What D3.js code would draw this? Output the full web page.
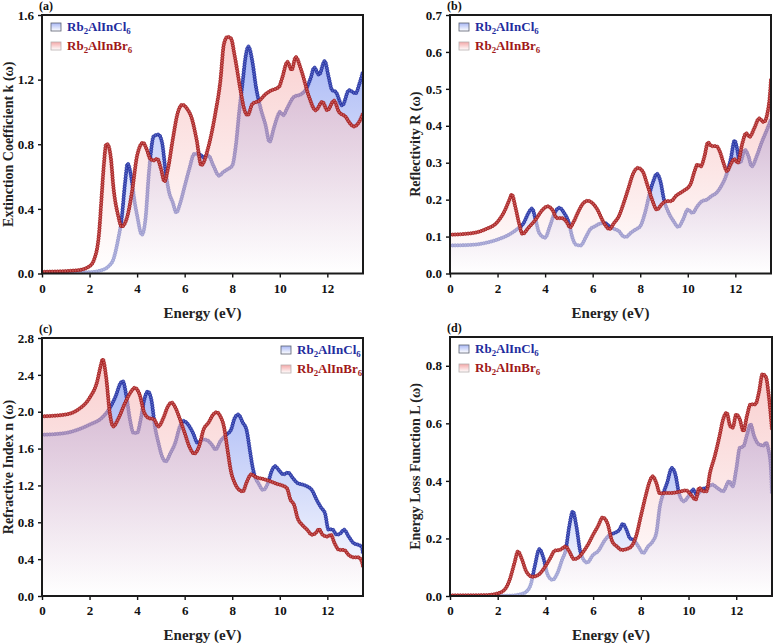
<!DOCTYPE html>
<html>
<head>
<meta charset="utf-8">
<script src="https://cdn.jsdelivr.net/npm/d3@7"></script>
<style>
  body { margin: 0; background: #fff; }
  svg { display: block; }
  text { font-family: "Liberation Serif", "DejaVu Serif", serif; font-weight: bold; }
</style>
</head>
<body>
<div id="chart"></div>
<script>
// [energy (eV), value]
const kCl = [[0,0.005],[2.0,0.008],[2.5,0.02],[2.8,0.045],[3.0,0.087],[3.2,0.21],[3.35,0.34],[3.5,0.57],[3.6,0.68],[3.75,0.6],[3.9,0.44],[4.0,0.36],[4.2,0.24],[4.35,0.335],[4.5,0.63],[4.7,0.85],[4.9,0.86],[5.05,0.81],[5.2,0.63],[5.35,0.5],[5.5,0.44],[5.65,0.377],[5.8,0.43],[6.0,0.54],[6.2,0.65],[6.4,0.74],[6.6,0.74],[6.8,0.72],[7.0,0.73],[7.2,0.67],[7.45,0.605],[7.6,0.625],[7.8,0.645],[8.0,0.667],[8.15,0.79],[8.3,1.01],[8.45,1.2],[8.55,1.33],[8.68,1.405],[8.85,1.31],[9.0,1.155],[9.2,1.02],[9.4,0.92],[9.57,0.815],[9.75,0.9],[9.9,0.97],[10.0,1.0],[10.15,0.98],[10.3,1.02],[10.6,1.094],[10.9,1.11],[11.1,1.14],[11.3,1.21],[11.45,1.275],[11.65,1.23],[11.89,1.315],[12.05,1.22],[12.2,1.135],[12.35,1.125],[12.63,1.04],[12.91,1.135],[13.19,1.115],[13.35,1.175],[13.5,1.25]];
const kBr = [[0,0.01],[1.5,0.02],[2.0,0.045],[2.2,0.09],[2.4,0.25],[2.5,0.46],[2.6,0.67],[2.7,0.8],[2.75,0.8],[2.9,0.71],[3.0,0.54],[3.2,0.36],[3.35,0.29],[3.6,0.36],[3.8,0.52],[4.0,0.73],[4.25,0.81],[4.4,0.77],[4.55,0.71],[4.7,0.7],[4.85,0.71],[5.0,0.65],[5.15,0.57],[5.3,0.65],[5.5,0.83],[5.7,0.99],[5.9,1.045],[6.1,1.02],[6.3,0.96],[6.5,0.83],[6.7,0.67],[7.0,0.785],[7.3,1.0],[7.5,1.19],[7.65,1.42],[7.8,1.465],[7.95,1.455],[8.1,1.35],[8.37,1.117],[8.5,1.02],[8.65,0.98],[8.85,1.05],[9.14,1.07],[9.4,1.11],[9.6,1.13],[9.97,1.156],[10.1,1.21],[10.32,1.31],[10.5,1.26],[10.67,1.34],[10.9,1.26],[11.23,1.094],[11.51,1.01],[11.79,1.063],[12.0,1.01],[12.28,1.07],[12.49,1.0],[12.77,0.97],[12.95,0.93],[13.12,0.91],[13.3,0.93],[13.5,0.99]];

const rCl = [[0,0.076],[1.0,0.078],[1.5,0.083],[2.0,0.092],[2.5,0.106],[2.8,0.119],[3.1,0.137],[3.3,0.164],[3.45,0.176],[3.6,0.146],[3.75,0.11],[4.0,0.097],[4.2,0.128],[4.4,0.164],[4.6,0.178],[4.8,0.164],[5.0,0.137],[5.15,0.097],[5.3,0.078],[5.5,0.076],[5.7,0.097],[5.9,0.12],[6.1,0.128],[6.3,0.135],[6.5,0.137],[6.7,0.128],[6.9,0.121],[7.1,0.115],[7.3,0.1],[7.4,0.099],[7.6,0.11],[7.8,0.119],[8.0,0.128],[8.2,0.164],[8.4,0.218],[8.55,0.25],[8.7,0.27],[8.85,0.25],[9.0,0.2],[9.2,0.164],[9.4,0.142],[9.6,0.126],[9.8,0.146],[10.0,0.173],[10.2,0.164],[10.4,0.182],[10.6,0.196],[10.8,0.2],[11.0,0.21],[11.2,0.218],[11.4,0.236],[11.6,0.263],[11.8,0.308],[11.97,0.36],[12.05,0.345],[12.2,0.3],[12.4,0.335],[12.55,0.318],[12.69,0.29],[12.9,0.318],[13.1,0.354],[13.3,0.385],[13.5,0.417]];
const rBr = [[0,0.105],[1.0,0.11],[1.5,0.12],[2.0,0.14],[2.3,0.17],[2.5,0.2],[2.6,0.214],[2.75,0.18],[2.9,0.137],[3.05,0.107],[3.3,0.124],[3.6,0.146],[3.9,0.173],[4.1,0.182],[4.3,0.173],[4.5,0.15],[4.7,0.15],[4.9,0.14],[5.05,0.125],[5.2,0.14],[5.4,0.168],[5.6,0.19],[5.8,0.197],[6.0,0.19],[6.2,0.173],[6.4,0.146],[6.6,0.125],[6.7,0.12],[6.9,0.137],[7.1,0.155],[7.3,0.19],[7.5,0.23],[7.7,0.27],[7.9,0.286],[8.1,0.277],[8.3,0.24],[8.5,0.2],[8.7,0.173],[8.9,0.187],[9.1,0.196],[9.3,0.196],[9.5,0.21],[9.8,0.223],[10.1,0.24],[10.3,0.28],[10.4,0.295],[10.55,0.29],[10.7,0.317],[10.85,0.355],[11.0,0.345],[11.2,0.345],[11.35,0.33],[11.5,0.3],[11.65,0.277],[11.8,0.295],[11.95,0.31],[12.1,0.3],[12.3,0.354],[12.45,0.38],[12.6,0.37],[12.8,0.394],[13.0,0.42],[13.2,0.41],[13.35,0.435],[13.45,0.48],[13.5,0.525]];

const nCl = [[0,1.75],[1.0,1.77],[1.5,1.805],[2.0,1.86],[2.5,1.93],[2.8,2.02],[3.1,2.17],[3.3,2.31],[3.4,2.33],[3.55,2.17],[3.7,1.915],[3.85,1.77],[4.0,1.77],[4.15,1.915],[4.3,2.13],[4.45,2.22],[4.6,2.13],[4.75,1.84],[4.9,1.66],[5.05,1.515],[5.2,1.46],[5.4,1.55],[5.6,1.66],[5.8,1.84],[5.95,1.9],[6.15,1.86],[6.35,1.77],[6.55,1.66],[6.75,1.7],[6.95,1.69],[7.15,1.64],[7.3,1.59],[7.5,1.68],[7.75,1.75],[7.95,1.805],[8.1,1.93],[8.25,1.97],[8.45,1.88],[8.6,1.805],[8.75,1.57],[8.85,1.41],[8.95,1.3],[9.1,1.225],[9.3,1.15],[9.5,1.225],[9.65,1.35],[9.8,1.41],[9.95,1.37],[10.15,1.32],[10.35,1.34],[10.55,1.28],[10.75,1.225],[10.95,1.21],[11.15,1.19],[11.35,1.15],[11.55,1.045],[11.75,0.955],[11.9,0.9],[12.05,0.72],[12.2,0.725],[12.4,0.665],[12.55,0.68],[12.7,0.72],[12.9,0.645],[13.1,0.575],[13.3,0.555],[13.45,0.535],[13.5,0.465]];
const nBr = [[0,1.95],[1.0,1.97],[1.5,2.02],[2.0,2.15],[2.3,2.31],[2.5,2.53],[2.55,2.57],[2.7,2.37],[2.85,1.99],[3.0,1.84],[3.2,1.92],[3.5,2.1],[3.75,2.22],[3.9,2.26],[4.1,2.19],[4.3,1.99],[4.5,1.93],[4.7,1.92],[4.9,1.84],[5.1,1.93],[5.3,2.06],[5.45,2.1],[5.6,2.05],[5.8,1.92],[6.0,1.77],[6.2,1.62],[6.4,1.545],[6.6,1.62],[6.8,1.81],[7.0,1.88],[7.2,1.97],[7.35,1.995],[7.5,1.95],[7.65,1.84],[7.8,1.59],[7.95,1.35],[8.1,1.23],[8.3,1.15],[8.45,1.135],[8.6,1.23],[8.8,1.32],[9.0,1.29],[9.3,1.27],[9.6,1.245],[9.9,1.215],[10.1,1.2],[10.3,1.17],[10.45,1.045],[10.6,0.99],[10.75,0.845],[10.95,0.77],[11.15,0.72],[11.35,0.665],[11.5,0.68],[11.65,0.725],[11.8,0.665],[12.0,0.645],[12.15,0.665],[12.3,0.575],[12.5,0.5],[12.7,0.5],[12.9,0.445],[13.1,0.42],[13.3,0.42],[13.45,0.375],[13.5,0.32]];

const lCl = [[0,0.0],[2.5,0.001],[3.0,0.007],[3.2,0.015],[3.4,0.044],[3.55,0.102],[3.75,0.163],[3.9,0.137],[4.1,0.073],[4.3,0.056],[4.5,0.079],[4.7,0.126],[4.85,0.16],[5.0,0.242],[5.15,0.294],[5.3,0.242],[5.45,0.16],[5.6,0.126],[5.75,0.116],[6.0,0.143],[6.2,0.155],[6.5,0.195],[6.7,0.213],[6.9,0.219],[7.1,0.23],[7.25,0.251],[7.4,0.23],[7.55,0.2],[7.7,0.195],[7.9,0.172],[8.1,0.149],[8.3,0.172],[8.5,0.19],[8.65,0.219],[8.8,0.312],[8.95,0.358],[9.1,0.393],[9.3,0.445],[9.45,0.422],[9.6,0.358],[9.8,0.329],[10.0,0.347],[10.2,0.37],[10.35,0.352],[10.55,0.37],[10.75,0.376],[11.0,0.387],[11.2,0.376],[11.45,0.364],[11.7,0.399],[11.85,0.381],[12.0,0.44],[12.15,0.515],[12.3,0.52],[12.45,0.56],[12.6,0.597],[12.75,0.556],[12.95,0.527],[13.15,0.523],[13.25,0.533],[13.35,0.51],[13.45,0.45],[13.5,0.358]];
const lBr = [[0,0.002],[1.5,0.003],[2.0,0.009],[2.3,0.023],[2.5,0.056],[2.7,0.114],[2.85,0.155],[3.0,0.131],[3.2,0.085],[3.45,0.067],[3.7,0.073],[3.95,0.097],[4.2,0.131],[4.4,0.158],[4.6,0.16],[4.85,0.172],[5.0,0.155],[5.2,0.128],[5.4,0.135],[5.6,0.155],[5.8,0.181],[6.0,0.213],[6.2,0.242],[6.4,0.273],[6.6,0.253],[6.8,0.19],[7.0,0.172],[7.2,0.16],[7.4,0.163],[7.6,0.172],[7.8,0.207],[8.0,0.277],[8.2,0.347],[8.35,0.393],[8.5,0.416],[8.65,0.393],[8.8,0.356],[9.0,0.358],[9.3,0.358],[9.6,0.362],[9.9,0.367],[10.1,0.352],[10.3,0.335],[10.45,0.376],[10.6,0.364],[10.75,0.364],[10.9,0.428],[11.1,0.486],[11.3,0.556],[11.45,0.614],[11.6,0.637],[11.75,0.59],[11.85,0.585],[12.0,0.631],[12.15,0.614],[12.3,0.573],[12.45,0.626],[12.6,0.666],[12.8,0.666],[12.95,0.707],[13.1,0.771],[13.25,0.76],[13.35,0.707],[13.45,0.626],[13.5,0.579]];

const xTicks = [0, 2, 4, 6, 8, 10, 12];

const series = [
  { key: 'Cl', name: ['Rb', '2', 'AlInCl', '6'], line: '#1b2a9c', dot: '#5562c0', top: '#a9b8f5', text: '#1f2d9e' },
  { key: 'Br', name: ['Rb', '2', 'AlInBr', '6'], line: '#9e1414', dot: '#c85858', top: '#f4a8a8', text: '#a01818' }
];

const panels = [
  { tag: '(a)', data: [kCl, kBr], l: 42, r: 363, t: 15, b: 273.5, ymax: 1.6, ystep: 0.4, title: 'Extinction Coefficient k (\u03c9)', tx: 13, legend: 'left' },
  { tag: '(b)', data: [rCl, rBr], l: 450, r: 771, t: 15, b: 273.5, ymax: 0.7, ystep: 0.1, title: 'Reflectivity R (\u03c9)', tx: 420, legend: 'left' },
  { tag: '(c)', data: [nCl, nBr], l: 42, r: 363, t: 338, b: 596, ymax: 2.8, ystep: 0.4, title: 'Refractive Index n (\u03c9)', tx: 13, legend: 'right' },
  { tag: '(d)', data: [lCl, lBr], l: 450, r: 772, t: 337, b: 596, ymax: 0.9, ystep: 0.2, title: 'Energy Loss Function L (\u03c9)', tx: 420, legend: 'left' }
];

const svg = d3.select('#chart').append('svg')
  .attr('width', 774)
  .attr('height', 643);
const defs = svg.append('defs');

// vertical fades, top colour to white
series.forEach(s => {
  const g = defs.append('linearGradient')
    .attr('id', 'fade' + s.key)
    .attr('x1', 0).attr('y1', 0).attr('x2', 0).attr('y2', 1);
  g.append('stop').attr('offset', 0).attr('stop-color', s.top);
  g.append('stop').attr('offset', 1).attr('stop-color', '#ffffff');
});

function addName(text, parts, size) {
  text.append('tspan').text(parts[0]);
  text.append('tspan').text(parts[1]).attr('dy', 3).attr('font-size', size * 0.68);
  text.append('tspan').text(parts[2]).attr('dy', -3);
  text.append('tspan').text(parts[3]).attr('dy', 3).attr('font-size', size * 0.68);
}

panels.forEach((p, pi) => {
  const x = d3.scaleLinear().domain([0, 13.5]).range([p.l, p.r]);
  const y = d3.scaleLinear().domain([0, p.ymax]).range([p.b, p.t]);
  const g = svg.append('g');

  defs.append('clipPath').attr('id', 'clip' + pi)
    .append('rect')
    .attr('x', p.l).attr('y', p.t)
    .attr('width', p.r - p.l).attr('height', p.b - p.t);

  const plot = g.append('g').attr('clip-path', `url(#clip${pi})`);

  const area = d3.area()
    .x(d => x(d[0])).y0(y(0)).y1(d => y(d[1]))
    .curve(d3.curveMonotoneX);
  const line = d3.line()
    .x(d => x(d[0])).y(d => y(d[1]))
    .curve(d3.curveMonotoneX);

  series.forEach((s, si) => {
    const pts = p.data[si];
    plot.append('path')
      .attr('d', area(pts))
      .attr('fill', `url(#fade${s.key})`)
      .attr('fill-opacity', si === 0 ? 1 : 0.55);

    const path = plot.append('path')
      .attr('d', line(pts))
      .attr('fill', 'none')
      .attr('stroke', s.line)
      .attr('stroke-width', 2);

    // beads along the curve, evenly spaced by length like the original symbols
    const node = path.node();
    const len = node.getTotalLength();
    const beads = d3.range(0, len, 2.6).map(l => node.getPointAtLength(l));
    plot.append('g').selectAll('circle')
      .data(beads)
      .join('circle')
      .attr('cx', d => d.x)
      .attr('cy', d => d.y)
      .attr('r', 1.6)
      .attr('fill', s.dot)
      .attr('stroke', s.line)
      .attr('stroke-width', 0.7);
  });

  // axes
  const xAxis = g.append('g')
    .attr('transform', `translate(0,${p.b})`)
    .call(d3.axisBottom(x).tickValues(xTicks).tickSize(4).tickPadding(6).tickFormat(d3.format('d')));
  const yAxis = g.append('g')
    .attr('transform', `translate(${p.l},0)`)
    .call(d3.axisLeft(y).tickValues(d3.range(0, p.ymax + 1e-9, p.ystep)).tickSize(4).tickPadding(4).tickFormat(d3.format('.1f')));
  [xAxis, yAxis].forEach(a => {
    a.attr('font-family', null);
    a.select('.domain').remove();
    a.selectAll('line').attr('stroke', '#111').attr('stroke-width', 1.4);
    a.selectAll('text')
      .attr('fill', '#111')
      .attr('font-size', 13);
  });

  // frame
  g.append('rect')
    .attr('x', p.l).attr('y', p.t)
    .attr('width', p.r - p.l).attr('height', p.b - p.t)
    .attr('fill', 'none')
    .attr('stroke', '#1a1a1a')
    .attr('stroke-width', 2);

  // titles
  g.append('text')
    .attr('x', (p.l + p.r) / 2)
    .attr('y', p.b + 44)
    .attr('text-anchor', 'middle')
    .attr('font-size', 15)
    .attr('fill', '#222')
    .text('Energy (eV)');
  g.append('text')
    .attr('transform', `translate(${p.tx},${(p.t + p.b) / 2}) rotate(-90)`)
    .attr('text-anchor', 'middle')
    .attr('font-size', 14)
    .attr('fill', '#222')
    .text(p.title);
  g.append('text')
    .attr('x', p.l - 3)
    .attr('y', p.t - 5)
    .attr('font-size', 12)
    .attr('fill', '#111')
    .text(p.tag);

  // legend
  series.forEach((s, si) => {
    const cy = p.t + 12 + si * 19;
    const sq = p.legend === 'left' ? p.l + 9 : p.r - 82;
    g.append('rect')
      .attr('x', sq).attr('y', cy - 4)
      .attr('width', 10).attr('height', 8)
      .attr('fill', `url(#fade${s.key})`)
      .attr('stroke', si === 0 ? '#5a6070' : '#b8b0b0')
      .attr('stroke-width', 0.8);
    const t = g.append('text')
      .attr('x', sq + 16)
      .attr('y', cy + 4)
      .attr('font-size', 13)
      .attr('fill', s.text);
    addName(t, s.name, 13);
  });
});
</script>
</body>
</html>
